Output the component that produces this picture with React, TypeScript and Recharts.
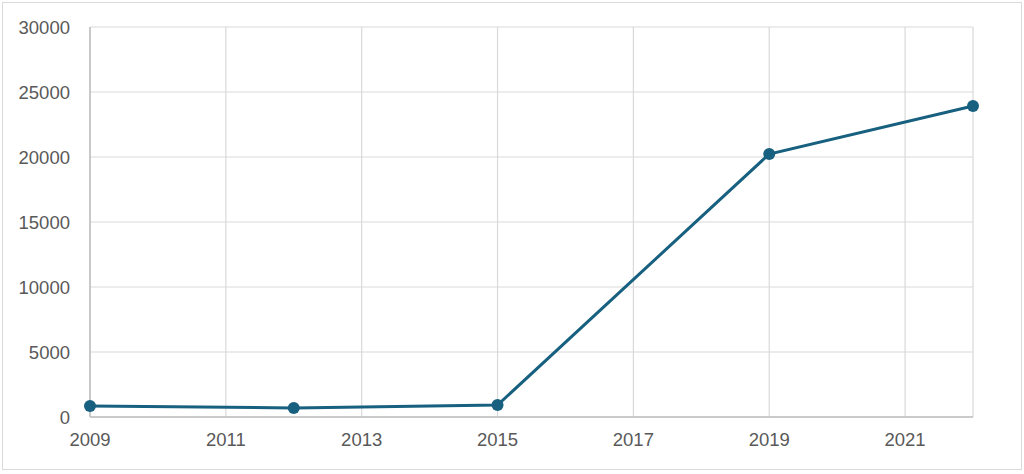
import { LineChart, Line, XAxis, YAxis, CartesianGrid } from "recharts";

const years = [2009, 2012, 2015, 2019, 2022];
const values = [850, 700, 920, 20230, 23920];
const xTicks = [2009, 2011, 2013, 2015, 2017, 2019, 2021];
const yTicks = [0, 5000, 10000, 15000, 20000, 25000, 30000];

const data = years.map((year, i) => ({ year, value: values[i] }));

const LINE = "#17607f";
const tickStyle = { fill: "#595959", fontSize: 18.5, fontFamily: "Liberation Sans, Arial, sans-serif" };

export default function App() {
  return (
    <div style={{ position: "absolute", left: 0, top: 0, width: 1024, height: 474, background: "#fff" }}>
      <div
        style={{
          position: "absolute",
          left: 2,
          top: 2,
          width: 1020,
          height: 468,
          border: "1px solid #d9d9d9",
          boxSizing: "border-box",
        }}
      />
      <div style={{ position: "absolute", left: 0, top: 0 }}>
        <LineChart width={1024} height={474} data={data} margin={{ top: 27, right: 51, bottom: 27, left: 0 }}>
          <CartesianGrid stroke="#d9d9d9" strokeWidth={1.2} />
          <XAxis
            dataKey="year"
            type="number"
            domain={[2009, 2022]}
            ticks={xTicks}
            height={30}
            tickLine={false}
            tickMargin={10}
            stroke="#bfbfbf"
            strokeWidth={1.5}
            tick={tickStyle}
          />
          <YAxis
            type="number"
            domain={[0, 30000]}
            ticks={yTicks}
            width={90}
            tickLine={false}
            tickMargin={14}
            stroke="#bfbfbf"
            strokeWidth={1.5}
            tick={tickStyle}
          />
          <Line
            type="linear"
            dataKey="value"
            stroke={LINE}
            strokeWidth={3}
            dot={{ r: 6, fill: LINE, stroke: LINE, strokeWidth: 0 }}
            isAnimationActive={false}
          />
        </LineChart>
      </div>
    </div>
  );
}
